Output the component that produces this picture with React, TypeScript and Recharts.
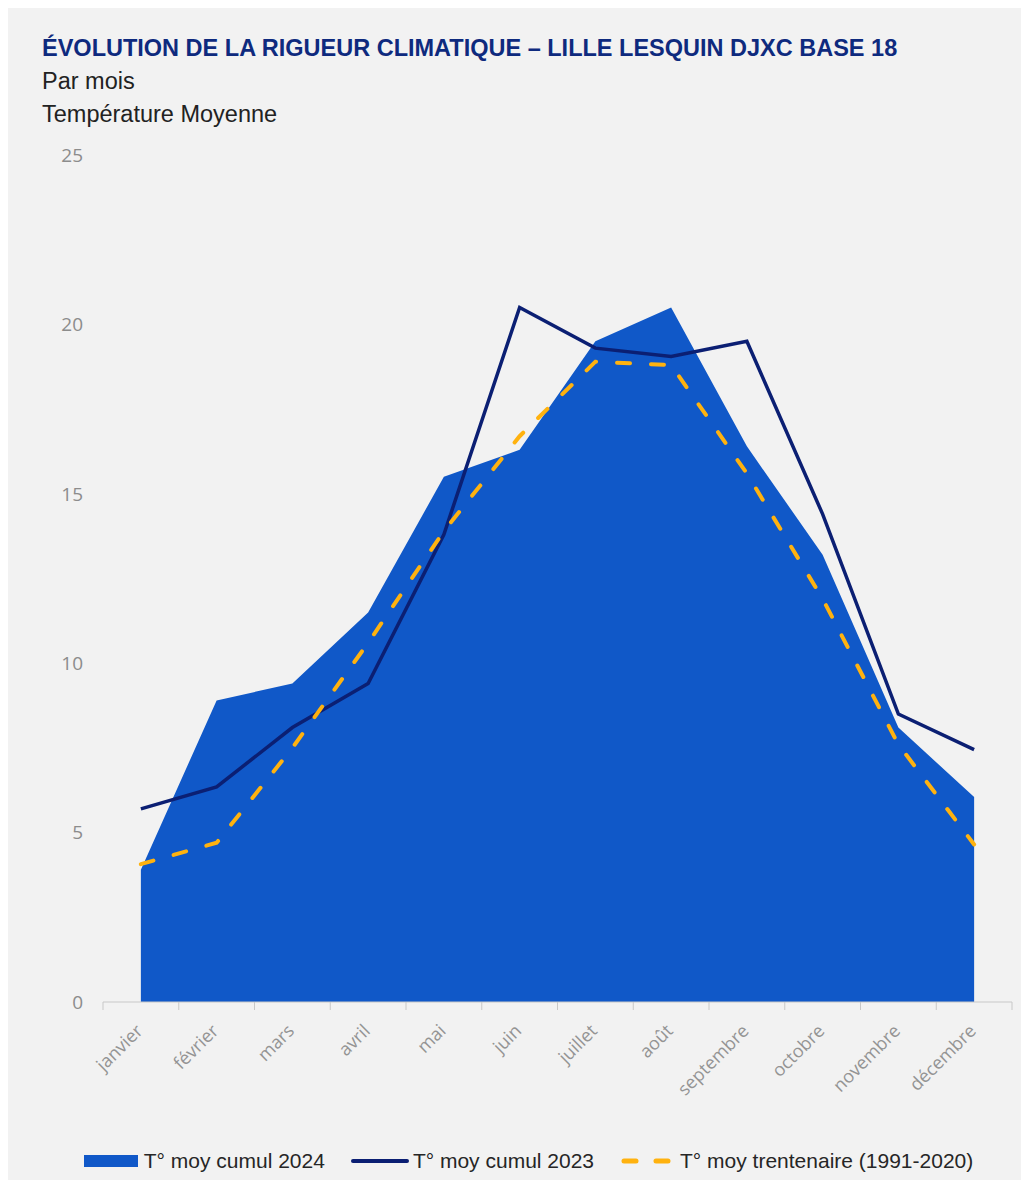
import { Area, ComposedChart, Legend, Line, XAxis, YAxis } from "recharts";

const mois = ["janvier", "février", "mars", "avril", "mai", "juin", "juillet", "août", "septembre", "octobre", "novembre", "décembre"];
const cumul2024 = [3.9, 8.9, 9.4, 11.5, 15.5, 16.3, 19.5, 20.5, 16.4, 13.2, 8.1, 6.05];
const cumul2023 = [5.7, 6.35, 8.1, 9.4, 13.8, 20.5, 19.3, 19.05, 19.5, 14.4, 8.5, 7.45];
const trentenaire = [4.07, 4.7, 7.5, 10.6, 13.9, 16.7, 18.9, 18.8, 15.6, 11.9, 7.6, 4.65];
const yTicks = [0, 5, 10, 15, 20, 25];
const serieNames = ["T° moy cumul 2024", "T° moy cumul 2023", "T° moy trentenaire (1991-2020)"];

const data = mois.map((m, i) => ({ mois: m, t2024: cumul2024[i], t2023: cumul2023[i], trente: trentenaire[i] }));

const BLUE = "#1058c8";
const NAVY = "#0b1f73";
const ORANGE = "#ffb20f";
const W = 1029;
const H = 1188;
const PLOT_W = 909;
const BAND = PLOT_W / 12;
const ARIAL = '"Liberation Sans", Arial, sans-serif';

function MonthTick(props: any) {
  const { x, y, payload, index } = props;
  const tx = x + 3;
  const ty = y + 30;
  return (
    <g>
      <line x1={x - BAND / 2} x2={x - BAND / 2} y1={y} y2={y + 8} stroke="#c8c8c8" />
      {index === mois.length - 1 && <line x1={x + BAND / 2} x2={x + BAND / 2} y1={y} y2={y + 8} stroke="#c8c8c8" />}
      <text x={tx} y={ty} textAnchor="end" fill="#949494" fontSize={18} transform={`rotate(-45 ${tx} ${ty})`}>
        {payload.value}
      </text>
    </g>
  );
}

function LegendContent() {
  const icons = [
    <svg width={58} height={18} key="a"><rect x={0} y={3} width={54} height={12} fill={BLUE} /></svg>,
    <svg width={60} height={18} key="b"><line x1={2} x2={56} y1={9} y2={9} stroke={NAVY} strokeWidth={4} strokeLinecap="round" /></svg>,
    <svg width={58} height={18} key="c"><line x1={4} x2={56} y1={9} y2={9} stroke={ORANGE} strokeWidth={5} strokeLinecap="round" strokeDasharray="12 20" /></svg>,
  ];
  return (
    <div style={{ display: "flex", justifyContent: "center", alignItems: "center", gap: 26, fontFamily: ARIAL, fontSize: 21, color: "#262626", paddingLeft: 2, lineHeight: "24px" }}>
      {serieNames.map((n, i) => (
        <span key={n} style={{ display: "flex", alignItems: "center" }}>
          {icons[i]}
          <span style={{ marginLeft: 2 }}>{n}</span>
        </span>
      ))}
    </div>
  );
}

export default function App() {
  const txt = { position: "absolute" as const, left: 42, fontFamily: ARIAL, fontSize: 23.5, lineHeight: "23.5px", color: "#222", whiteSpace: "nowrap" as const };
  return (
    <div style={{ position: "relative", width: W, height: H, background: "#ffffff", margin: -8 }}>
      <div style={{ position: "absolute", left: 5, top: 5, width: W - 10, height: H - 10, background: "#f2f2f2" }} />
      <div style={{ ...txt, top: 37, fontWeight: 700, color: "#0e2a7e" }}>
        ÉVOLUTION DE LA RIGUEUR CLIMATIQUE – LILLE LESQUIN DJXC BASE 18
      </div>
      <div style={{ ...txt, top: 70 }}>Par mois</div>
      <div style={{ ...txt, top: 103 }}>Température Moyenne</div>
      <div style={{ position: "absolute", left: 0, top: 0 }}>
        <ComposedChart width={W} height={H} data={data} margin={{ top: 155, right: 17, left: 43, bottom: 46 }} style={{ fontFamily: '"Open Sans", sans-serif' }}>
          <XAxis
            dataKey="mois"
            interval={0}
            height={100}
            padding={{ left: BAND / 2, right: BAND / 2 }}
            tickSize={0}
            tickMargin={0}
            axisLine={{ stroke: "#c8c8c8" }}
            tickLine={false}
            tick={<MonthTick />}
          />
          <YAxis
            width={60}
            domain={[0, 25]}
            ticks={yTicks}
            axisLine={false}
            tickLine={false}
            tickMargin={14}
            tick={{ fill: "#8c8c8c", fontSize: 19 }}
          />
          <Area dataKey="t2024" name={serieNames[0]} type="linear" fill={BLUE} fillOpacity={1} stroke="none" isAnimationActive={false} />
          <Line dataKey="t2023" name={serieNames[1]} type="linear" stroke={NAVY} strokeWidth={3.5} dot={false} isAnimationActive={false} />
          <Line dataKey="trente" name={serieNames[2]} type="linear" stroke={ORANGE} strokeWidth={4} strokeDasharray="13 21" strokeLinecap="round" dot={false} isAnimationActive={false} />
          <Legend verticalAlign="bottom" height={40} content={<LegendContent />} wrapperStyle={{ bottom: -1 }} />
        </ComposedChart>
      </div>
    </div>
  );
}
